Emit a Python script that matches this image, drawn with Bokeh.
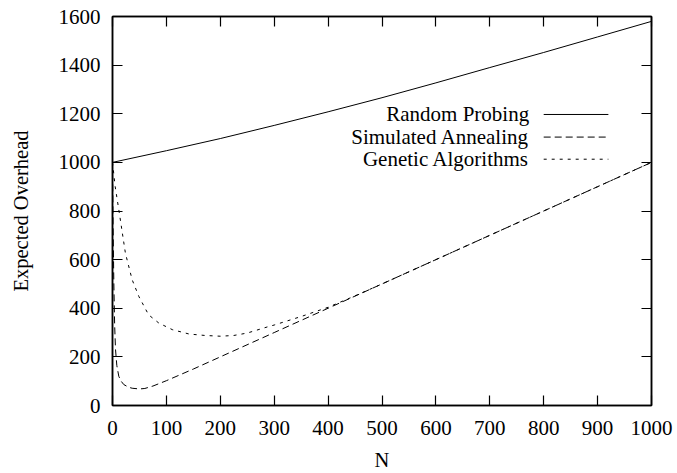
from bokeh.plotting import figure
from bokeh.models import Range1d, FixedTicker, LinearAxis, Label, Arrow
from bokeh.embed import file_html
from bokeh.resources import INLINE

# ---- data ----
series_names = ["Random Probing", "Simulated Annealing", "Genetic Algorithms"]

n_random = [0, 100, 200, 300, 400, 500, 600, 700, 800, 900, 1000]
random_probing = [1000, 1048, 1098, 1152, 1208, 1266, 1327, 1390, 1452, 1516, 1580]

n_sa = [0, 1, 2.5, 4, 5.6, 8, 11.7, 16, 21, 30, 36.5, 50, 60, 75, 100, 125, 150,
        200, 300, 400, 500, 600, 700, 800, 900, 1000]
simulated_annealing = [1000, 750, 500, 330, 230, 165, 120, 100, 86, 75, 71, 68, 70,
                       80, 102, 126, 150, 200, 300, 400, 500, 600, 700, 800, 900, 1000]

n_ga = [0, 5, 11.8, 24, 36.5, 49, 67, 86, 111, 142, 172, 200, 225, 250, 287, 300,
        350, 400, 450, 500, 600, 700, 800, 900, 1000]
genetic_algorithms = [1000, 900, 804, 626, 517, 448, 373, 339, 312, 294, 288, 285,
                      288, 298, 323, 331, 366, 404, 451, 500, 600, 700, 800, 900, 1000]

x_ticks = [0, 100, 200, 300, 400, 500, 600, 700, 800, 900, 1000]
y_ticks = [0, 200, 400, 600, 800, 1000, 1200, 1400, 1600]

FONT = "Times New Roman"
FS = "21px"
FS_AXIS = "20.5px"

p = figure(width=677, height=473, output_backend="svg", toolbar_location=None,
           x_range=Range1d(0, 1000), y_range=Range1d(0, 1600),
           min_border_left=112, min_border_right=26, min_border_top=16,
           min_border_bottom=67, x_axis_label="N", y_axis_label="Expected Overhead")
p.background_fill_color = "white"
p.border_fill_color = "white"
p.outline_line_color = "black"
p.outline_line_width = 1.5
p.xgrid.visible = False
p.ygrid.visible = False

def style_axis(ax, ticks, show_labels=True):
    ax.ticker = FixedTicker(ticks=ticks)
    ax.major_tick_in = 10
    ax.major_tick_out = 0
    ax.minor_tick_line_color = None
    ax.axis_line_color = "black"
    ax.axis_line_width = 1.5
    ax.major_tick_line_color = "black"
    ax.major_tick_line_width = 1.2
    ax.major_label_text_font = FONT
    ax.major_label_text_color = "black"
    if show_labels:
        ax.major_label_text_font_size = FS
        ax.major_label_standoff = 15
        ax.axis_label_text_font = FONT
        ax.axis_label_text_font_size = FS_AXIS
        ax.axis_label_text_font_style = "normal"
        ax.axis_label_text_color = "black"
    else:
        ax.major_label_text_font_size = "1px"
        ax.major_label_text_color = None
        ax.major_label_overrides = {t: "" for t in ticks}
        ax.major_label_standoff = 0

style_axis(p.xaxis[0], x_ticks)
style_axis(p.yaxis[0], y_ticks)
p.yaxis[0].major_label_standoff = 12
p.xaxis[0].axis_label_standoff = 11
p.yaxis[0].axis_label_standoff = 24

top_ax = LinearAxis()
style_axis(top_ax, x_ticks, show_labels=False)
p.add_layout(top_ax, "above")
right_ax = LinearAxis()
style_axis(right_ax, y_ticks, show_labels=False)
p.add_layout(right_ax, "right")

dashes = ["solid", "7 4", "3 5"]
p.line(n_random, random_probing, line_color="black", line_width=1, line_dash=dashes[0])
p.line(n_sa, simulated_annealing, line_color="black", line_width=1, line_dash=dashes[1])
p.line(n_ga, genetic_algorithms, line_color="black", line_width=1, line_dash=dashes[2])

# ---- gnuplot-style key: text right-aligned, sample line to the right ----
key_text_x = 773
key_line_x0 = 800
key_line_x1 = 920
key_rows_y = [1197, 1104, 1013]
for name, dash, ky in zip(series_names, dashes, key_rows_y):
    p.add_layout(Label(x=key_text_x, y=ky, text=name, text_align="right",
                       text_baseline="middle", text_font=FONT, text_font_size=FS,
                       text_color="black"))
    p.add_layout(Arrow(x_start=key_line_x0, y_start=ky, x_end=key_line_x1, y_end=ky,
                       end=None, line_color="black", line_width=1, line_dash=dash))

open("out.html", "w").write(file_html(p, INLINE))
